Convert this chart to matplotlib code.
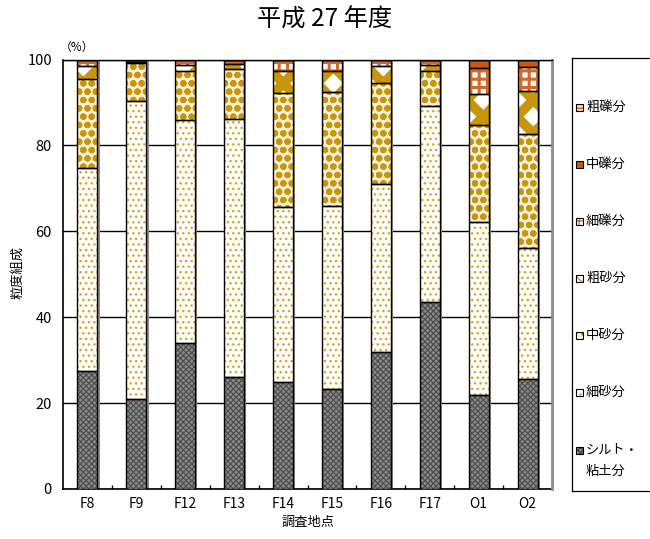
import matplotlib
matplotlib.use("Agg")
import matplotlib.pyplot as plt
from matplotlib.patches import Rectangle
import numpy as np

plt.rcParams['font.family'] = ['Liberation Sans Narrow', 'Noto Sans CJK JP', 'DejaVu Sans']
plt.rcParams['hatch.linewidth'] = 1.0

categories = ['F8', 'F9', 'F12', 'F13', 'F14', 'F15', 'F16', 'F17', 'O1', 'O2']
silt_clay     = [27.4, 21.0, 34.0, 26.0, 25.0, 23.3, 31.9, 43.6, 22.0, 25.6]
fine_sand     = [47.3, 69.3, 52.0, 60.2, 40.6, 42.5, 39.0, 45.5, 40.1, 30.4]
medium_sand   = [20.7, 8.8, 11.3, 11.6, 26.6, 26.7, 23.6, 8.2, 22.55, 26.6]
coarse_sand   = [3.0, 0.4, 1.5, 1.2, 5.2, 4.9, 3.9, 1.4, 7.35, 10.1]
fine_gravel   = [1.6, 0.5, 1.2, 1.0, 2.6, 2.6, 1.6, 1.3, 6.1, 5.5]
medium_gravel = [0, 0, 0, 0, 0, 0, 0, 0, 1.9, 1.8]
coarse_gravel = [0, 0, 0, 0, 0, 0, 0, 0, 0, 0]

series_names = ['シルト・\n粘土分', '細砂分', '中砂分', '粗砂分', '細礫分', '中礫分', '粗礫分']
series_values = [silt_clay, fine_sand, medium_sand, coarse_sand, fine_gravel, medium_gravel, coarse_gravel]

# style: (facecolor, hatch, hatchcolor, hatch linewidth)
styles = [
    ('#8a8a8a', 'xxxxxx', '#4a4a4a', 0.8),
    ('#ffffff', '...', '#d9a520', 1.0),
    ('#faf0d8', 'oo', '#c8960a', 2.2),
    ('#ffffff', 'x', '#c8960a', 7.0),
    ('#ffffff', '++', '#d0692a', 2.2),
    ('#c55a11', '', '#c55a11', 1.0),
    ('#f6d2b8', '---', '#d0692a', 1.0),
]

fig = plt.figure(figsize=(6.5, 5.39), dpi=100)
ax = fig.add_axes([63/650, 1-489/539, 489/650, 429.5/539])

x = np.arange(len(categories))
width = 0.41
bottom = np.zeros(len(categories))

# shadow
ax.bar(x + 0.045, np.sum(series_values, axis=0), width, color='#8c8c8c', zorder=2, linewidth=0)

for vals, st in zip(series_values, styles):
    vals = np.array(vals, dtype=float)
    fc, h, hc, hlw = st
    bars = ax.bar(x, vals, width, bottom=bottom, color=fc, edgecolor=hc, hatch=h,
                  linewidth=0, zorder=3)
    for b in bars:
        if hasattr(b, 'set_hatch_linewidth'):
            b.set_hatch_linewidth(hlw)
    ax.bar(x, vals, width, bottom=bottom, fill=False, edgecolor='black',
           linewidth=1.0, zorder=4)
    bottom += vals

ax.set_xlim(-0.5, len(categories) - 0.5)
ax.set_ylim(0, 100)
ax.set_yticks([0, 20, 40, 60, 80, 100])
ax.yaxis.grid(True, color='black', linewidth=1.0, zorder=1)
ax.set_axisbelow(True)
ax.set_xticks(x)
ax.set_xticklabels(categories, fontsize=10)
ax.tick_params(axis='x', length=0, pad=6)
ax.set_xticks(np.arange(0.5, len(categories) - 0.5, 1), minor=True)
ax.tick_params(axis='x', which='minor', direction='in', length=3, width=1)
ax.tick_params(axis='y', length=0, labelsize=10.5, pad=8)
for s in ['top', 'right']:
    ax.spines[s].set_visible(False)
ax.spines['left'].set_linewidth(1.2)
ax.spines['bottom'].set_linewidth(1.2)
ax.plot([1, 1], [0, 1], transform=ax.transAxes, color='#8c8c8c', lw=2, clip_on=False, zorder=5)
ax.plot([0, 1], [1, 1], transform=ax.transAxes, color='black', lw=1.0, clip_on=False, zorder=5)

ax.set_xlabel('調査地点', fontsize=9.5, labelpad=3, family=['Noto Sans CJK JP'])
fig.text(18/650, 1-273/539, '粒度組成', fontsize=9.5, rotation=90, ha='center', va='center',
         family=['Noto Sans CJK JP'])
fig.text(77/650, 1-47/539, '（%）', fontsize=8.5, ha='center', va='center', family=['Noto Sans CJK JP'])
fig.text(325/650, 1-20/539, '平成 27 年度', fontsize=17.5, ha='center', va='center',
         family=['Noto Sans CJK JP'])

# legend
lax = fig.add_axes([572/650, 1-491/539, 90/650, 433/539])
lax.set_xlim(0, 90)
lax.set_ylim(491, 58)
lax.set_xticks([])
lax.set_yticks([])
for s in lax.spines.values():
    s.set_linewidth(0.9)
lax.patch.set_alpha(0)
ys = list(np.linspace(107, 450, 7))
order = list(range(len(series_names)))[::-1]
for yy, i in zip(ys, order):
    fc, h, hc, hlw = styles[i]
    r = Rectangle((4, yy - 3.5), 7, 7, facecolor=fc, edgecolor=hc, hatch=h, linewidth=0, zorder=3)
    lax.add_patch(r)
    lax.add_patch(Rectangle((4, yy - 3.5), 7, 7, fill=False, edgecolor='black', linewidth=0.8, zorder=4))
    if i == 0:
        lax.text(14, yy, 'シルト・', fontsize=9.5, va='center', ha='left', family=['Noto Sans CJK JP'])
        lax.text(14, yy + 21, '粘土分', fontsize=9.5, va='center', ha='left', family=['Noto Sans CJK JP'])
    else:
        lax.text(14, yy, series_names[i], fontsize=9.5, va='center', ha='left', family=['Noto Sans CJK JP'])

fig.savefig('out.png', dpi=100)
